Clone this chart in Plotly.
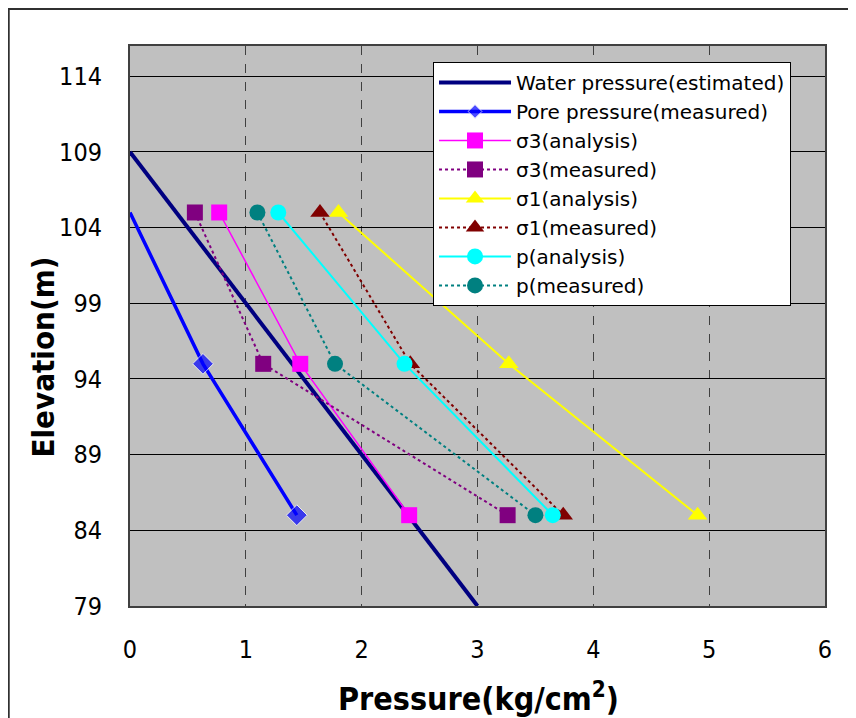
import plotly.graph_objects as go

elev = [105, 95, 85]
water_x = [0, 3.0]
water_y = [109, 79]
pore = [0.0, 0.63, 1.44]
s3_analysis = [0.77, 1.47, 2.41]
s3_measured = [0.56, 1.15, 3.26]
s1_analysis = [1.80, 3.27, 4.90]
s1_measured = [1.64, 2.42, 3.74]
p_analysis = [1.28, 2.37, 3.65]
p_measured = [1.10, 1.77, 3.50]

FONT = "DejaVu Sans Condensed, DejaVu Sans, sans-serif"
LFONT = "DejaVu Sans, sans-serif"

fig = go.Figure()
fig.add_trace(go.Scatter(x=water_x, y=water_y, mode="lines", name="Water pressure(estimated)",
                         line=dict(color="#000080", width=4)))
fig.add_trace(go.Scatter(x=pore, y=elev, mode="lines+markers", name="Pore pressure(measured)",
                         line=dict(color="#0000FF", width=3.5),
                         marker=dict(symbol="diamond", size=[0, 16, 16], color="#0000FF")))
fig.add_trace(go.Scatter(x=s3_analysis, y=elev, mode="lines+markers", name="σ3(analysis)",
                         line=dict(color="#FF00FF", width=1.5),
                         marker=dict(symbol="square", size=16, color="#FF00FF")))
fig.add_trace(go.Scatter(x=s3_measured, y=elev, mode="lines+markers", name="σ3(measured)",
                         line=dict(color="#800080", width=2, dash="dot"),
                         marker=dict(symbol="square", size=16, color="#800080")))
fig.add_trace(go.Scatter(x=s1_analysis, y=elev, mode="lines+markers", name="σ1(analysis)",
                         line=dict(color="#FFFF00", width=2),
                         marker=dict(symbol="triangle-up", size=17, color="#FFFF00")))
fig.add_trace(go.Scatter(x=s1_measured, y=elev, mode="lines+markers", name="σ1(measured)",
                         line=dict(color="#800000", width=2, dash="dot"),
                         marker=dict(symbol="triangle-up", size=17, color="#800000")))
fig.add_trace(go.Scatter(x=p_analysis, y=elev, mode="lines+markers", name="p(analysis)",
                         line=dict(color="#00FFFF", width=2),
                         marker=dict(symbol="circle", size=16, color="#00FFFF")))
fig.add_trace(go.Scatter(x=p_measured, y=elev, mode="lines+markers", name="p(measured)",
                         line=dict(color="#008080", width=2, dash="dot"),
                         marker=dict(symbol="circle", size=16, color="#008080")))

fig.update_layout(
    width=856, height=718,
    margin=dict(l=122, r=39, t=38, b=120),
    paper_bgcolor="white", plot_bgcolor="#C0C0C0",
    font=dict(family=FONT, color="black"),
    showlegend=True,
    legend=dict(x=0.436, y=0.9715, xanchor="left", yanchor="top",
                bgcolor="white", bordercolor="black", borderwidth=1,
                font=dict(size=20, family=LFONT), itemwidth=72, tracegroupgap=0),
    xaxis=dict(range=[0, 6], tickvals=[0, 1, 2, 3, 4, 5, 6], showgrid=True,
               gridcolor="#404040", griddash="dash", gridwidth=1,
               showline=True, linecolor="#404040", linewidth=2, mirror=True,
               zeroline=False, tickfont=dict(size=25, family=FONT), ticks="",
               ticklabelstandoff=20, automargin=False),
    yaxis=dict(range=[79, 116], tickvals=[79, 84, 89, 94, 99, 104, 109, 114], showgrid=True,
               gridcolor="black", gridwidth=1,
               showline=True, linecolor="#404040", linewidth=2, mirror=True,
               zeroline=False, tickfont=dict(size=25, family=FONT), ticks="",
               ticklabelstandoff=21, automargin=False),
    annotations=[
        dict(text="<b>Elevation(m)</b>", x=-0.125, y=0.444, xref="paper", yref="paper",
             xanchor="center", yanchor="middle",
             textangle=-90, showarrow=False, font=dict(size=31, family=FONT)),
        dict(text="<b>Pressure(kg/cm<sup>2</sup>)</b>", x=0.501, y=-0.1625, xref="paper", yref="paper",
             xanchor="center", yanchor="middle",
             showarrow=False, font=dict(size=32, family=FONT)),
    ],
    shapes=[dict(type="rect", xref="paper", yref="paper", x0=-0.1745, y0=-0.25, x1=1.08, y1=1.066,
                 line=dict(color="#303030", width=2), fillcolor="rgba(0,0,0,0)", layer="below")],
)

fig.write_html("out.html")
